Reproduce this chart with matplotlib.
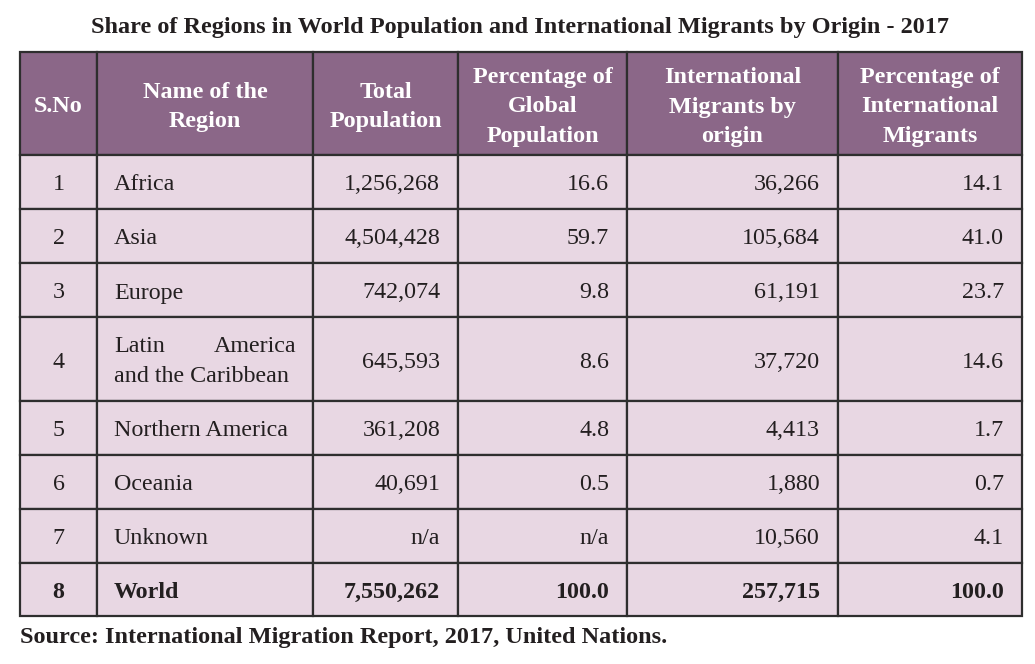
import matplotlib.pyplot as plt
from matplotlib.patches import Rectangle

plt.rcParams['font.family'] = ['Liberation Serif', 'DejaVu Serif']

title = "Share of Regions in World Population and International Migrants by Origin - 2017"
source = "Source: International Migration Report, 2017, United Nations."

headers = ["S.No", "Name of the\nRegion", "Total\nPopulation",
           "Percentage of\nGlobal\nPopulation",
           "International\nMigrants by\norigin",
           "Percentage of\nInternational\nMigrants"]

sno = ["1", "2", "3", "4", "5", "6", "7", "8"]
regions = ["Africa", "Asia", "Europe", "Latin America\nand the Caribbean",
           "Northern America", "Oceania", "Unknown", "World"]
total_pop = ["1,256,268", "4,504,428", "742,074", "645,593", "361,208",
             "40,691", "n/a", "7,550,262"]
pct_global = ["16.6", "59.7", "9.8", "8.6", "4.8", "0.5", "n/a", "100.0"]
migrants = ["36,266", "105,684", "61,191", "37,720", "4,413", "1,880",
            "10,560", "257,715"]
pct_migrants = ["14.1", "41.0", "23.7", "14.6", "1.7", "0.7", "4.1", "100.0"]

# layout in pixels
col_x = [20, 97, 313, 458, 627, 838, 1022]
row_y = [52, 155, 209, 263, 317, 401, 455, 509, 563, 616]
header_color = "#8b6788"
body_color = "#e8d7e3"
line_color = "#2e2e2e"
text_color = "#231f20"
fs = 17.3

fig = plt.figure(figsize=(10.35, 6.64), dpi=100)
ax = fig.add_axes([0, 0, 1, 1])
ax.set_xlim(0, 1035)
ax.set_ylim(664, 0)
ax.axis("off")

ax.text(520, 28, title, ha="center", va="center", fontsize=17.5,
        fontweight="bold", color=text_color)

# header
for j, h in enumerate(headers):
    x0, x1 = col_x[j], col_x[j + 1]
    ax.add_patch(Rectangle((x0, row_y[0]), x1 - x0, row_y[1] - row_y[0],
                           facecolor=header_color, edgecolor=line_color, lw=1.6))
    ax.text((x0 + x1) / 2, (row_y[0] + row_y[1]) / 2 + 3.5, h, ha="center",
            va="center", fontsize=17.4, fontweight="bold", color="white",
            linespacing=1.55)

# body
columns = [sno, regions, total_pop, pct_global, migrants, pct_migrants]
for i in range(len(sno)):
    y0, y1 = row_y[i + 1], row_y[i + 2]
    yc = (y0 + y1) / 2 + 3
    bold = "bold" if i == len(sno) - 1 else "normal"
    for j, col in enumerate(columns):
        x0, x1 = col_x[j], col_x[j + 1]
        ax.add_patch(Rectangle((x0, y0), x1 - x0, y1 - y0,
                               facecolor=body_color, edgecolor=line_color, lw=1.6))
        val = col[i]
        if j == 0:
            ax.text((x0 + x1) / 2, yc, val, ha="center", va="center",
                    fontsize=fs, fontweight=bold, color=text_color)
        elif j == 1:
            lines = val.split("\n")
            if len(lines) == 2:
                # first line justified across the cell
                first = lines[0].split()
                ax.text(x0 + 17, yc - 15, first[0], ha="left", va="center",
                        fontsize=fs, color=text_color)
                ax.text(x1 - 17, yc - 15, first[1], ha="right", va="center",
                        fontsize=fs, color=text_color)
                ax.text(x0 + 17, yc + 15, lines[1], ha="left", va="center",
                        fontsize=fs, color=text_color)
            else:
                ax.text(x0 + 17, yc, val, ha="left", va="center",
                        fontsize=fs, fontweight=bold, color=text_color)
        else:
            ax.text(x1 - 18, yc, val, ha="right", va="center",
                    fontsize=fs, fontweight=bold, color=text_color)

ax.text(20, 638, source, ha="left", va="center", fontsize=17.5,
        fontweight="bold", color=text_color)

fig.savefig("out.png", dpi=100)
